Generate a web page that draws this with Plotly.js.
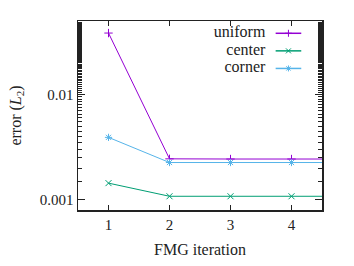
<!DOCTYPE html>
<html><head><meta charset="utf-8">
<script src="https://cdn.plot.ly/plotly-3.0.1.min.js"></script>
<style>html,body{margin:0;padding:0;background:#fff}#chart{width:354px;height:266px}</style>
</head><body><div id="chart"></div>
<script>
const iterations = [1, 2, 3, 4, 5];
const uniformErr = [0.0384, 0.00245, 0.00244, 0.00244, 0.00244];
const centerErr = [0.00144, 0.00108, 0.00108, 0.00108, 0.00108];
const cornerErr = [0.00392, 0.00226, 0.00226, 0.00226, 0.00226];
const seriesNames = ['uniform', 'center', 'corner'];
const seriesColors = ['#9400d3', '#009e73', '#56b4e9'];
const seriesSymbols = ['cross-thin-open', 'x-thin-open', 'asterisk-open'];
const xTicks = [1, 2, 3, 4];
const yTicks = [0.001, 0.01];
const yTickText = ['0.001', '0.01'];

const font = 'Liberation Serif';
const textColor = '#222';
const seriesData = [uniformErr, centerErr, cornerErr];

const traces = seriesData.map((ys, i) => ({
  x: iterations, y: ys, type: 'scatter', mode: 'lines+markers',
  name: seriesNames[i],
  line: {color: seriesColors[i], width: 1},
  marker: {symbol: seriesSymbols[i], size: 6, color: seriesColors[i], line: {color: seriesColors[i], width: 1}},
  showlegend: false
}));

// custom legend (text left of sample, like gnuplot)
const shapes = [];
const legTop = 0.935, legStep = 0.093;
const legY = seriesNames.map((n, i) => legTop - i * legStep);
seriesNames.forEach((n, i) => {
  shapes.push({type: 'line', xref: 'paper', yref: 'paper', x0: 0.81, x1: 0.915, y0: legY[i], y1: legY[i],
    line: {color: seriesColors[i], width: 1.5}});
});

const layout = {
  width: 354, height: 266,
  margin: {l: 78, r: 32, t: 21, b: 56},
  paper_bgcolor: '#fff', plot_bgcolor: '#fff',
  font: {family: font, size: 15, color: textColor},
  xaxis: {
    range: [0.5, 4.5], tickvals: xTicks, ticktext: xTicks.map(String),
    ticks: 'inside', ticklen: 5, tickwidth: 1, tickcolor: textColor,
    tickfont: {family: font, size: 15, color: textColor},
    showline: true, linecolor: textColor, linewidth: 1.5, mirror: 'ticks',
    showgrid: false, zeroline: false,
    title: {text: 'FMG iteration', font: {family: font, size: 16, color: textColor}, standoff: 12}
  },
  yaxis: {
    type: 'log', range: [Math.log10(0.0008), Math.log10(0.05)],
    tickvals: yTicks, ticktext: yTickText,
    ticks: 'inside', ticklen: 7, tickwidth: 1, tickcolor: textColor,
    tickfont: {family: font, size: 15, color: textColor},
    minor: {ticks: 'inside', ticklen: 4, tickcolor: textColor, tickwidth: 1, showgrid: false},
    showline: true, linecolor: textColor, linewidth: 1.5, mirror: 'ticks',
    showgrid: false, zeroline: false,
    title: {text: 'error (<i>L</i><sub>2</sub>)', font: {family: font, size: 16, color: textColor}, standoff: 14}
  },
  shapes: shapes,
  showlegend: false
};

// legend labels and sample markers on an overlay axis spanning the plot area (0..1)
layout.xaxis2 = {overlaying: 'x', range: [0, 1], visible: false, fixedrange: true};
layout.yaxis2 = {overlaying: 'y', range: [0, 1], visible: false, fixedrange: true};
traces.push({x: seriesNames.map(() => 0.768), y: legY, xaxis: 'x2', yaxis: 'y2',
  type: 'scatter', mode: 'text', text: seriesNames, textposition: 'middle left',
  textfont: {family: font, size: 16, color: textColor}, showlegend: false, hoverinfo: 'skip', cliponaxis: false});
seriesNames.forEach((n, i) => {
  traces.push({x: [0.8625], y: [legY[i]], xaxis: 'x2', yaxis: 'y2',
    type: 'scatter', mode: 'markers', showlegend: false, hoverinfo: 'skip',
    marker: {symbol: seriesSymbols[i], size: 5, color: seriesColors[i], line: {color: seriesColors[i], width: 1}}});
});

Plotly.newPlot('chart', traces, layout, {staticPlot: true, displayModeBar: false});
</script></body></html>
